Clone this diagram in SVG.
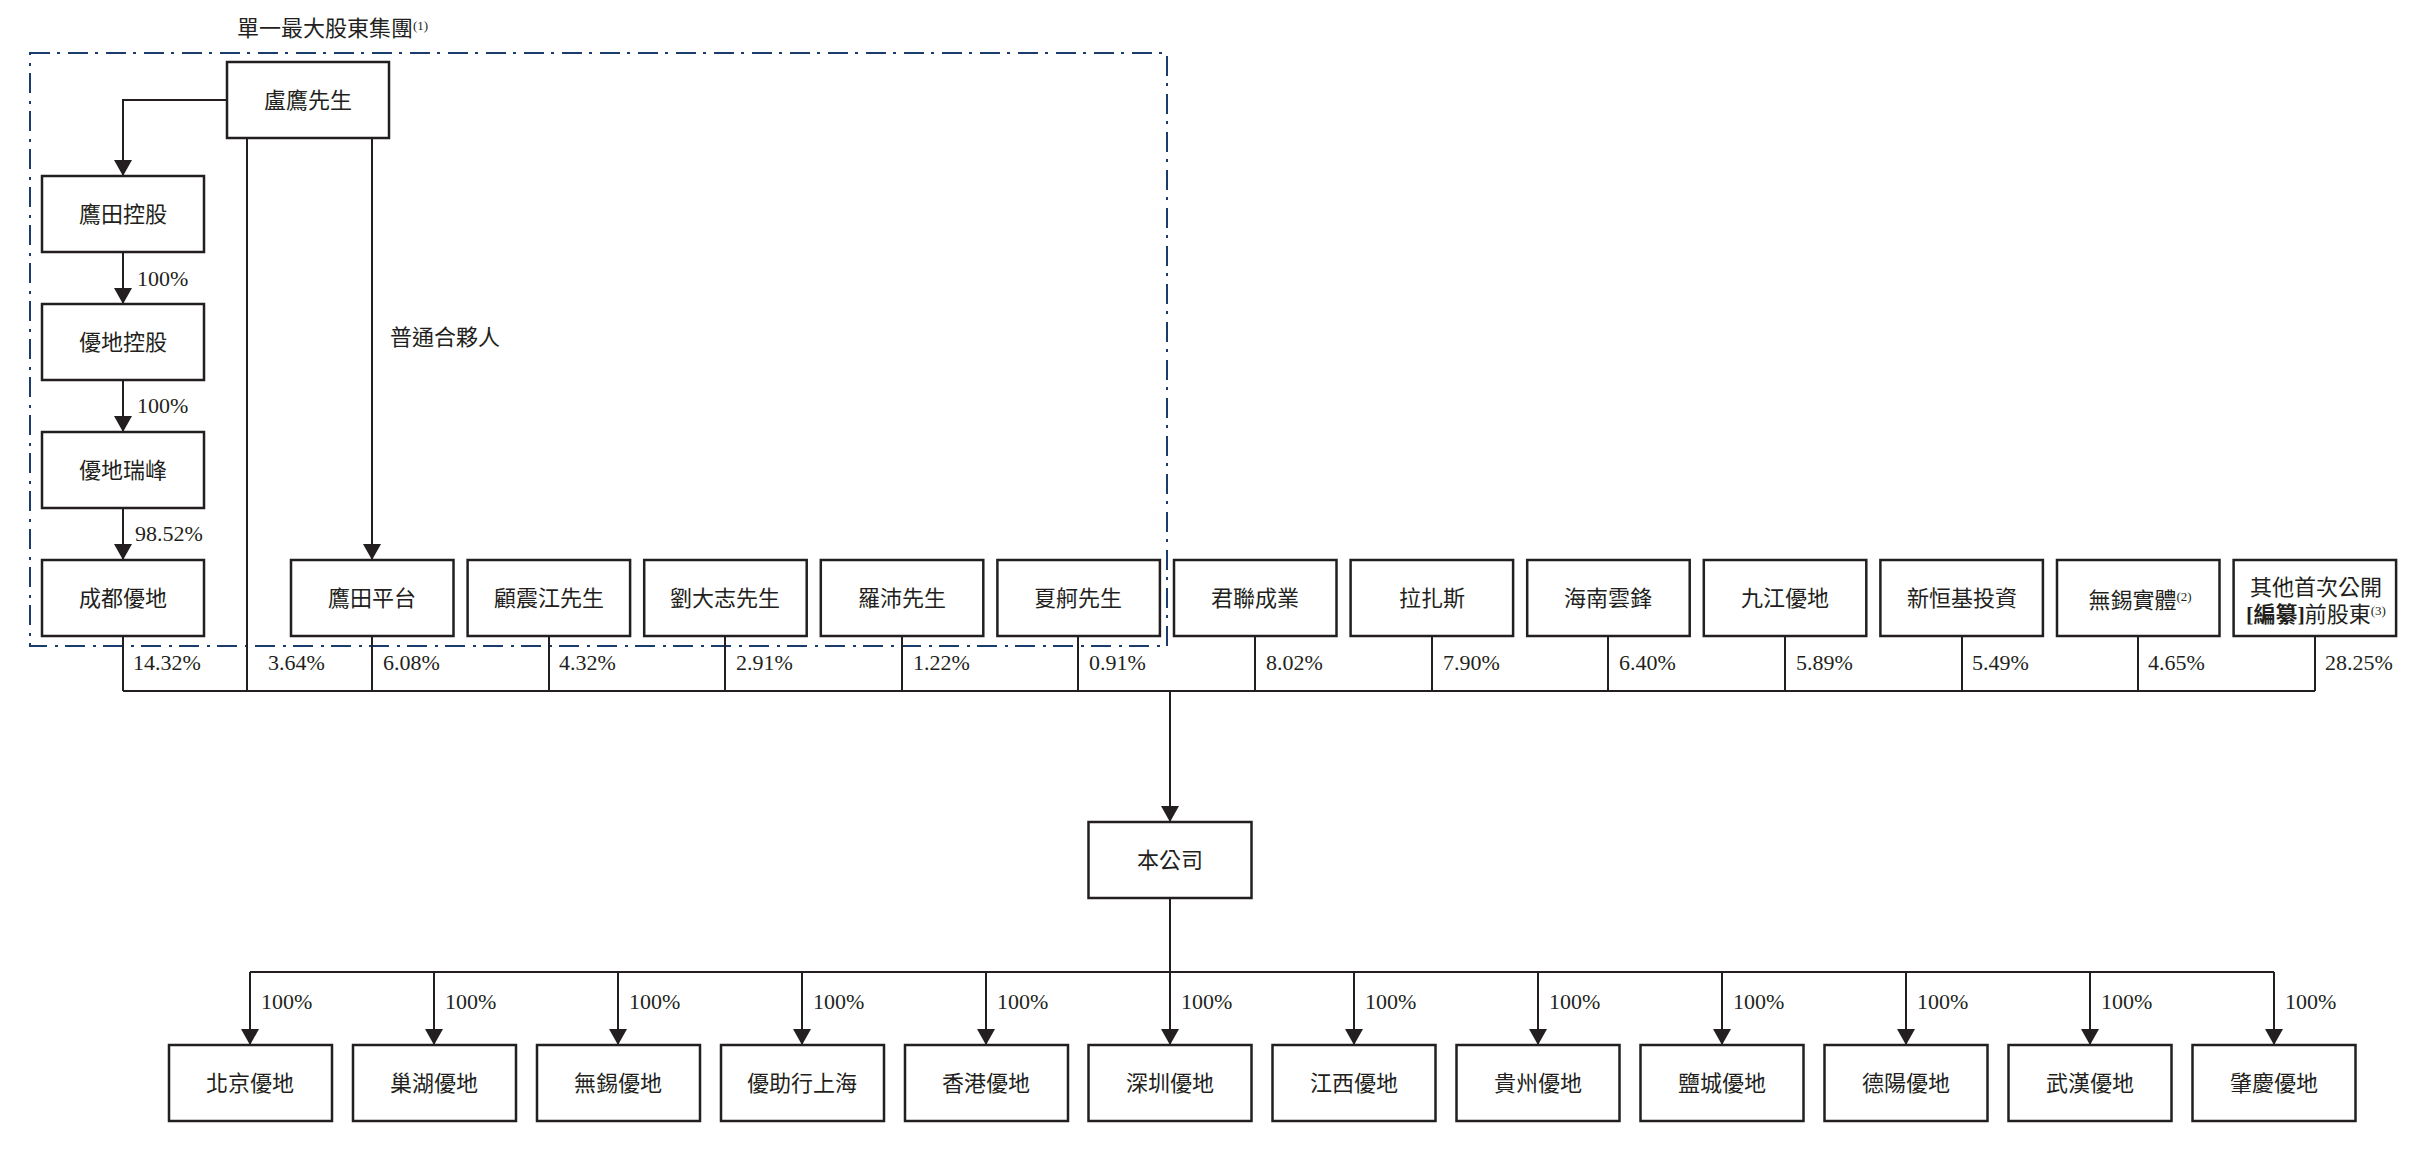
<svg xmlns="http://www.w3.org/2000/svg" width="2426" height="1154" viewBox="0 0 2426 1154">
<style>
.box{fill:#fff;stroke:#231f20;stroke-width:2.5}
.ln{fill:none;stroke:#231f20;stroke-width:2}
.t{font-family:"Liberation Serif","Noto Sans CJK TC",serif;font-size:22px;fill:#231f20;text-anchor:middle}
.p{font-family:"Liberation Serif",serif;font-size:22px;fill:#231f20}
.sup{font-size:13px}
.grp{fill:none;stroke:#1b3d6e;stroke-width:2;stroke-dasharray:20 7 3 8}
</style>
<defs>
<marker id="arr" viewBox="0 0 16 18" markerWidth="16" markerHeight="18" refX="16" refY="9" orient="auto" markerUnits="userSpaceOnUse">
<path d="M0,0 L16,9 L0,18 z" fill="#231f20"/>
</marker>
</defs>
<rect width="2426" height="1154" fill="#fff"/>

<g id="group-boundary">
<rect class="grp" x="30" y="53" width="1137" height="593"/>
<text class="t" x="237" y="36" style="text-anchor:start">單一最大股東集團<tspan class="sup" dy="-6">(1)</tspan></text>
</g>

<g id="connectors">
<polyline class="ln" points="227,100 123,100 123,176" marker-end="url(#arr)"/>
<line class="ln" x1="123" y1="252" x2="123" y2="304" marker-end="url(#arr)"/>
<line class="ln" x1="123" y1="380" x2="123" y2="432" marker-end="url(#arr)"/>
<line class="ln" x1="123" y1="508" x2="123" y2="560" marker-end="url(#arr)"/>
<line class="ln" x1="372" y1="138" x2="372" y2="560" marker-end="url(#arr)"/>
<line class="ln" x1="247" y1="138" x2="247" y2="691"/>
<line class="ln" x1="123" y1="636" x2="123" y2="691"/>
<line class="ln" x1="372" y1="636" x2="372" y2="691"/>
<line class="ln" x1="549" y1="636" x2="549" y2="691"/>
<line class="ln" x1="725" y1="636" x2="725" y2="691"/>
<line class="ln" x1="902" y1="636" x2="902" y2="691"/>
<line class="ln" x1="1078" y1="636" x2="1078" y2="691"/>
<line class="ln" x1="1255" y1="636" x2="1255" y2="691"/>
<line class="ln" x1="1432" y1="636" x2="1432" y2="691"/>
<line class="ln" x1="1608" y1="636" x2="1608" y2="691"/>
<line class="ln" x1="1785" y1="636" x2="1785" y2="691"/>
<line class="ln" x1="1962" y1="636" x2="1962" y2="691"/>
<line class="ln" x1="2138" y1="636" x2="2138" y2="691"/>
<line class="ln" x1="2315" y1="636" x2="2315" y2="691"/>
<line class="ln" x1="123" y1="691" x2="2315" y2="691"/>
<line class="ln" x1="1170" y1="691" x2="1170" y2="822" marker-end="url(#arr)"/>
<line class="ln" x1="1170" y1="898" x2="1170" y2="972"/>
<line class="ln" x1="250" y1="972" x2="2274" y2="972"/>
<line class="ln" x1="250" y1="972" x2="250" y2="1045" marker-end="url(#arr)"/>
<line class="ln" x1="434" y1="972" x2="434" y2="1045" marker-end="url(#arr)"/>
<line class="ln" x1="618" y1="972" x2="618" y2="1045" marker-end="url(#arr)"/>
<line class="ln" x1="802" y1="972" x2="802" y2="1045" marker-end="url(#arr)"/>
<line class="ln" x1="986" y1="972" x2="986" y2="1045" marker-end="url(#arr)"/>
<line class="ln" x1="1170" y1="972" x2="1170" y2="1045" marker-end="url(#arr)"/>
<line class="ln" x1="1354" y1="972" x2="1354" y2="1045" marker-end="url(#arr)"/>
<line class="ln" x1="1538" y1="972" x2="1538" y2="1045" marker-end="url(#arr)"/>
<line class="ln" x1="1722" y1="972" x2="1722" y2="1045" marker-end="url(#arr)"/>
<line class="ln" x1="1906" y1="972" x2="1906" y2="1045" marker-end="url(#arr)"/>
<line class="ln" x1="2090" y1="972" x2="2090" y2="1045" marker-end="url(#arr)"/>
<line class="ln" x1="2274" y1="972" x2="2274" y2="1045" marker-end="url(#arr)"/>
</g>

<g id="labels">
<text class="t" x="390" y="345" style="text-anchor:start">普通合夥人</text>
<text class="p" x="137" y="286">100%</text>
<text class="p" x="137" y="413">100%</text>
<text class="p" x="135" y="541">98.52%</text>
<text class="p" x="133" y="670">14.32%</text>
<text class="p" x="268" y="670">3.64%</text>
<text class="p" x="383" y="670">6.08%</text>
<text class="p" x="559" y="670">4.32%</text>
<text class="p" x="736" y="670">2.91%</text>
<text class="p" x="913" y="670">1.22%</text>
<text class="p" x="1089" y="670">0.91%</text>
<text class="p" x="1266" y="670">8.02%</text>
<text class="p" x="1443" y="670">7.90%</text>
<text class="p" x="1619" y="670">6.40%</text>
<text class="p" x="1796" y="670">5.89%</text>
<text class="p" x="1972" y="670">5.49%</text>
<text class="p" x="2148" y="670">4.65%</text>
<text class="p" x="2325" y="670">28.25%</text>
<text class="p" x="261" y="1009">100%</text>
<text class="p" x="445" y="1009">100%</text>
<text class="p" x="629" y="1009">100%</text>
<text class="p" x="813" y="1009">100%</text>
<text class="p" x="997" y="1009">100%</text>
<text class="p" x="1181" y="1009">100%</text>
<text class="p" x="1365" y="1009">100%</text>
<text class="p" x="1549" y="1009">100%</text>
<text class="p" x="1733" y="1009">100%</text>
<text class="p" x="1917" y="1009">100%</text>
<text class="p" x="2101" y="1009">100%</text>
<text class="p" x="2285" y="1009">100%</text>
</g>

<g id="n-lu"><rect class="box" x="227" y="62" width="162" height="76"/><text class="t" x="308" y="108">盧鷹先生</text></g>
<g id="n-yingtian-holding"><rect class="box" x="42" y="176" width="162" height="76"/><text class="t" x="123" y="222">鷹田控股</text></g>
<g id="n-youdi-holding"><rect class="box" x="42" y="304" width="162" height="76"/><text class="t" x="123" y="350">優地控股</text></g>
<g id="n-youdi-ruifeng"><rect class="box" x="42" y="432" width="162" height="76"/><text class="t" x="123" y="478">優地瑞峰</text></g>
<g id="n-chengdu"><rect class="box" x="42" y="560" width="162" height="76"/><text class="t" x="123" y="606">成都優地</text></g>

<g id="n-yingtian-platform"><rect class="box" x="291" y="560" width="162.5" height="76"/><text class="t" x="372" y="606">鷹田平台</text></g>
<g id="n-gu"><rect class="box" x="467.6" y="560" width="162.5" height="76"/><text class="t" x="549" y="606">顧震江先生</text></g>
<g id="n-liu"><rect class="box" x="644.2" y="560" width="162.5" height="76"/><text class="t" x="725" y="606">劉大志先生</text></g>
<g id="n-luo"><rect class="box" x="820.8" y="560" width="162.5" height="76"/><text class="t" x="902" y="606">羅沛先生</text></g>
<g id="n-xia"><rect class="box" x="997.4" y="560" width="162.5" height="76"/><text class="t" x="1078" y="606">夏舸先生</text></g>
<g id="n-junlian"><rect class="box" x="1174" y="560" width="162.5" height="76"/><text class="t" x="1255" y="606">君聯成業</text></g>
<g id="n-lazhasi"><rect class="box" x="1350.6" y="560" width="162.5" height="76"/><text class="t" x="1432" y="606">拉扎斯</text></g>
<g id="n-hainan"><rect class="box" x="1527.2" y="560" width="162.5" height="76"/><text class="t" x="1608" y="606">海南雲鋒</text></g>
<g id="n-jiujiang"><rect class="box" x="1703.8" y="560" width="162.5" height="76"/><text class="t" x="1785" y="606">九江優地</text></g>
<g id="n-xinhengji"><rect class="box" x="1880.4" y="560" width="162.5" height="76"/><text class="t" x="1962" y="606">新恒基投資</text></g>
<g id="n-wuxi-entity"><rect class="box" x="2057" y="560" width="162.5" height="76"/><text class="t" x="2140" y="608">無錫實體<tspan class="sup" dy="-7">(2)</tspan></text></g>
<g id="n-other"><rect class="box" x="2233.6" y="560" width="162.5" height="76"/><text class="t" x="2316" y="595">其他首次公開</text><text class="t" x="2316" y="622"><tspan font-weight="bold">[編纂]</tspan>前股東<tspan class="sup" dy="-7">(3)</tspan></text></g>

<g id="n-company"><rect class="box" x="1088.5" y="822" width="163" height="76"/><text class="t" x="1170" y="868">本公司</text></g>

<g id="n-beijing"><rect class="box" x="169" y="1045" width="163" height="76"/><text class="t" x="250" y="1091">北京優地</text></g>
<g id="n-chaohu"><rect class="box" x="353" y="1045" width="163" height="76"/><text class="t" x="434" y="1091">巢湖優地</text></g>
<g id="n-wuxi"><rect class="box" x="537" y="1045" width="163" height="76"/><text class="t" x="618" y="1091">無錫優地</text></g>
<g id="n-youzhuxing"><rect class="box" x="721" y="1045" width="163" height="76"/><text class="t" x="802" y="1091">優助行上海</text></g>
<g id="n-hongkong"><rect class="box" x="905" y="1045" width="163" height="76"/><text class="t" x="986" y="1091">香港優地</text></g>
<g id="n-shenzhen"><rect class="box" x="1088.5" y="1045" width="163" height="76"/><text class="t" x="1170" y="1091">深圳優地</text></g>
<g id="n-jiangxi"><rect class="box" x="1272.5" y="1045" width="163" height="76"/><text class="t" x="1354" y="1091">江西優地</text></g>
<g id="n-guizhou"><rect class="box" x="1456.5" y="1045" width="163" height="76"/><text class="t" x="1538" y="1091">貴州優地</text></g>
<g id="n-yancheng"><rect class="box" x="1640.5" y="1045" width="163" height="76"/><text class="t" x="1722" y="1091">鹽城優地</text></g>
<g id="n-deyang"><rect class="box" x="1824.5" y="1045" width="163" height="76"/><text class="t" x="1906" y="1091">德陽優地</text></g>
<g id="n-wuhan"><rect class="box" x="2008.5" y="1045" width="163" height="76"/><text class="t" x="2090" y="1091">武漢優地</text></g>
<g id="n-zhaoqing"><rect class="box" x="2192.5" y="1045" width="163" height="76"/><text class="t" x="2274" y="1091">肇慶優地</text></g>
</svg>
